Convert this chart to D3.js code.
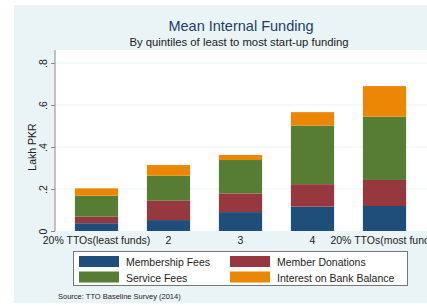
<!DOCTYPE html>
<html>
<head>
<meta charset="utf-8">
<script src="https://cdn.jsdelivr.net/npm/d3@7"></script>
<style>
  body { margin: 0; background: #fff; }
  svg { display: block; font-family: "Liberation Sans", Arial, sans-serif; }
</style>
</head>
<body>
<div id="chart"></div>
<script>
// quintile labels
const quintiles = ["20% TTOs(least funds)", "2", "3", "4", "20% TTOs(most funds)"];
// series values (Lakh PKR)
const membershipFees = [0.037, 0.052, 0.090, 0.116, 0.119];
const memberDonations = [0.031, 0.092, 0.089, 0.107, 0.124];
const serviceFees = [0.100, 0.119, 0.159, 0.279, 0.301];
const interestBank = [0.035, 0.051, 0.024, 0.064, 0.146];
const seriesNames = ["Membership Fees", "Member Donations", "Service Fees", "Interest on Bank Balance"];
const yTicks = [0, 0.2, 0.4, 0.6, 0.8];
const yTickLabels = ["0", ".2", ".4", ".6", ".8"];

const colors = ["#1f4e7a", "#97383f", "#577c34", "#ec8705"];
const W = 427, H = 306;

const svg = d3.select("#chart").append("svg")
  .attr("width", W).attr("height", H);

// stata-ish light background
svg.append("rect").attr("x", 14).attr("y", 5).attr("width", W - 14).attr("height", 298)
  .attr("fill", "#eaf3f5");

let plotLeft = 55, plotTop = 50, plotBottom = 231;
svg.append("rect").attr("x", plotLeft).attr("y", plotTop)
  .attr("width", W - plotLeft).attr("height", plotBottom - plotTop)
  .attr("fill", "#fff");

let y = d3.scaleLinear().domain([0, 0.8]).range([plotBottom, 63]);
let x = d3.scaleBand().domain(quintiles).range([60.5, 420.5])
  .paddingInner(0.4).paddingOuter(0.2);

// gridlines
svg.append("g").selectAll("line")
  .data(yTicks.filter(d => d > 0))
  .join("line")
  .attr("x1", plotLeft).attr("x2", W)
  .attr("y1", d => y(d)).attr("y2", d => y(d))
  .attr("stroke", "#eaf3f5").attr("stroke-width", 1);

// stacked bars
let rows = quintiles.map((q, i) => ({
  q: q,
  "Membership Fees": membershipFees[i],
  "Member Donations": memberDonations[i],
  "Service Fees": serviceFees[i],
  "Interest on Bank Balance": interestBank[i]
}));
let stacked = d3.stack().keys(seriesNames)(rows);

svg.append("g").selectAll("g")
  .data(stacked)
  .join("g")
  .attr("fill", (d, i) => colors[i])
  .selectAll("rect")
  .data(d => d)
  .join("rect")
  .attr("x", d => x(d.data.q))
  .attr("width", x.bandwidth())
  .attr("y", d => y(d[1]))
  .attr("height", d => y(d[0]) - y(d[1]));

// y axis
let yAxis = svg.append("g")
  .attr("transform", "translate(" + plotLeft + ",0)")
  .call(d3.axisLeft(y).tickValues(yTicks).tickFormat((d, i) => yTickLabels[i]).tickSize(4).tickSizeOuter(0));
yAxis.select(".domain").attr("stroke", "#888").attr("d", "M0," + plotTop + "V" + plotBottom);
yAxis.selectAll(".tick line").attr("stroke", "#888");
yAxis.selectAll(".tick text")
  .attr("x", null).attr("dy", null)
  .attr("transform", "translate(-8,0) rotate(-90)")
  .attr("text-anchor", "middle")
  .attr("font-size", 10.5).attr("fill", "#222")
  .attr("font-family", "Liberation Sans, Arial, sans-serif");

svg.append("text")
  .attr("transform", "translate(36,147) rotate(-90)")
  .attr("text-anchor", "middle")
  .attr("font-size", 10.5).attr("fill", "#222")
  .text("Lakh PKR");

// x axis (no line, labels only)
let xAxis = svg.append("g")
  .attr("transform", "translate(0," + plotBottom + ")")
  .call(d3.axisBottom(x).tickSize(0));
xAxis.select(".domain").remove();
xAxis.selectAll(".tick text")
  .attr("y", 13).attr("dy", 0)
  .attr("font-size", 10.5).attr("fill", "#222")
  .attr("font-family", "Liberation Sans, Arial, sans-serif");

// titles
svg.append("text").attr("x", 241).attr("y", 30.5)
  .attr("text-anchor", "middle").attr("font-size", 14.5).attr("fill", "#1c3d68")
  .text("Mean Internal Funding");
svg.append("text").attr("x", 239).attr("y", 45.5)
  .attr("text-anchor", "middle").attr("font-size", 11.3).attr("fill", "#222")
  .text("By quintiles of least to most start-up funding");

// legend
let lg = svg.append("g");
lg.append("rect").attr("x", 73.5).attr("y", 251.5).attr("width", 334).attr("height", 34)
  .attr("fill", "#fff").attr("stroke", "#777").attr("stroke-width", 1);
let legPos = [[79, 256], [230, 256], [79, 271.5], [230, 271.5]];
seriesNames.forEach((name, i) => {
  lg.append("rect").attr("x", legPos[i][0]).attr("y", legPos[i][1])
    .attr("width", 40).attr("height", 11).attr("fill", colors[i]);
  lg.append("text").attr("x", legPos[i][0] + 47).attr("y", legPos[i][1] + 10)
    .attr("font-size", 10.5).attr("fill", "#222").text(name);
});

svg.append("text").attr("x", 58).attr("y", 299)
  .attr("font-size", 7.5).attr("fill", "#222")
  .text("Source: TTO Baseline Survey (2014)");
</script>
</body>
</html>
